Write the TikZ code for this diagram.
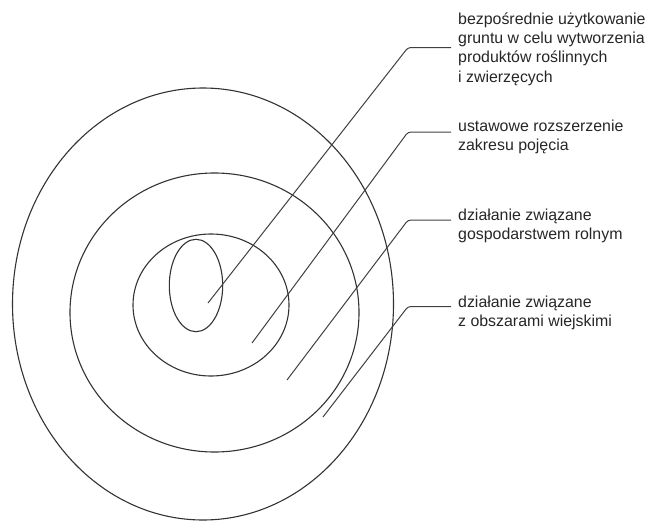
\documentclass[tikz,border=0pt]{standalone}
\usepackage{fontspec}
\setmainfont{Liberation Sans}
\begin{document}
\begin{tikzpicture}[x=1pt,y=-1pt,
  ring/.style={draw=black!80,line width=1.1pt},
  leader/.style={draw=black!75,line width=1pt,rounded corners=3pt},
  label/.style={anchor=base west,inner sep=0pt,align=left,text=black!85,
    font=\fontsize{15.9pt}{19.3pt}\selectfont}]
\useasboundingbox (0,0) rectangle (648,522);
% rings
\path[ring] (203,304) ellipse [x radius=190.5pt, y radius=216pt];
\path[ring] (214.5,312.5) ellipse [x radius=144.5pt, y radius=139.5pt];
\path[ring] (211,305) ellipse [x radius=78pt, y radius=71pt];
\path[ring] (196,285.5) ellipse [x radius=26.7pt, y radius=46.2pt];
% leader coordinates
\coordinate (p1) at (208,303);
\coordinate (k1) at (408,47.5);
\coordinate (e1) at (451,47.5);
\coordinate (p2) at (252,343);
\coordinate (k2) at (408,132);
\coordinate (e2) at (451,132);
\coordinate (p3) at (287,380);
\coordinate (k3) at (408,220);
\coordinate (e3) at (451,220);
\coordinate (p4) at (323,417);
\coordinate (k4) at (408,306.5);
\coordinate (e4) at (451,306.5);
% labels (base anchor = baseline of last line)
\node[label] (t1) at (458,82) {bezpośrednie użytkowanie\\gruntu w celu wytworzenia\\produktów roślinnych\\i zwierzęcych};
\node[label] (t2) at (458,150.5) {ustawowe rozszerzenie\\zakresu pojęcia};
\node[label] (t3) at (458,239.5) {działanie związane\\gospodarstwem rolnym};
\node[label] (t4) at (458,326.5) {działanie związane\\z obszarami wiejskimi};
% leaders
\draw[leader] (p1) -- (k1) -- (e1);
\draw[leader] (p2) -- (k2) -- (e2);
\draw[leader] (p3) -- (k3) -- (e3);
\draw[leader] (p4) -- (k4) -- (e4);
\end{tikzpicture}
\end{document}
